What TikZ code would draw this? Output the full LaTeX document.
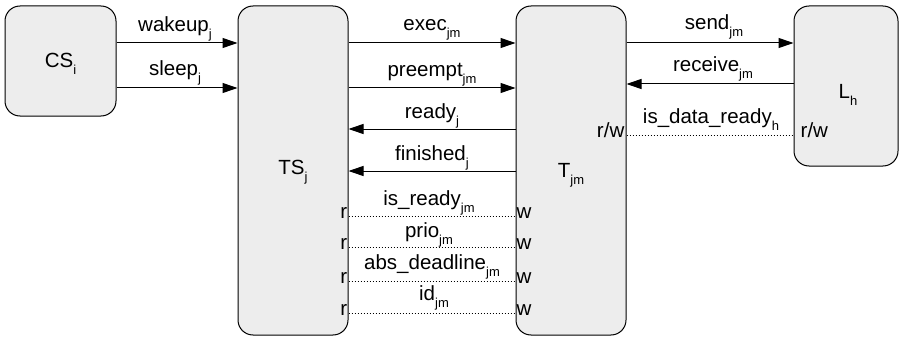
\documentclass[tikz,border=0pt]{standalone}
\usepackage{fontspec}
\setmainfont{Liberation Sans}
\usetikzlibrary{arrows.meta}
\newcommand{\mysub}[1]{\raisebox{-7pt}{\fontsize{13}{13}\selectfont #1}}
\tikzset{
 blk/.style={draw=black, line width=1pt, fill=black!7, rounded corners=15pt, inner sep=0pt},
 arr/.style={line width=1pt, -{Triangle[length=15pt,width=10pt]}},
 dotl/.style={line width=0.9pt, dash pattern=on 1pt off 2pt},
 lbl/.style={anchor=base, inner sep=0pt},
 rl/.style={anchor=mid east, inner sep=1pt},
 wl/.style={anchor=mid west, inner sep=1pt},
}
\begin{document}
\begin{tikzpicture}[x=1pt,y=-1pt,font=\fontsize{20.5}{24}\selectfont]
\useasboundingbox (0,0) rectangle (903,337);
% boxes
\node[blk, minimum width=111pt, minimum height=110pt] (cs) at (60.5,61) {};
\node[blk, minimum width=110pt, minimum height=329pt] (ts) at (293,170.5) {};
\node[blk, minimum width=110pt, minimum height=329pt] (t) at (571,170.5) {};
\node[blk, minimum width=104pt, minimum height=160pt] (l) at (846,86) {};
\node[lbl] (cst) at (60.5,67) {CS\mysub{i}};
\node[lbl] (tst) at (293,174) {TS\mysub{j}};
\node[lbl] (tt) at (571,177) {T\mysub{jm}};
\node[lbl] (lt) at (848,99) {L\mysub{h}};
% levels
\coordinate (y43) at (0,43);
\coordinate (y88) at (0,88);
\coordinate (y84) at (0,84);
\coordinate (y129) at (0,129);
\coordinate (y171) at (0,171);
\coordinate (y135) at (0,135);
\coordinate (y216) at (0,216);
\coordinate (y247) at (0,247);
\coordinate (y281) at (0,281);
\coordinate (y313) at (0,313);
% CS -> TS
\draw[arr] (cs.east |- y43) -- (ts.west |- y43);
\draw[arr] (cs.east |- y88) -- (ts.west |- y88);
\node[lbl] (lwake) at (175,32) {wakeup\mysub{j}};
\node[lbl] (lsleep) at (175,76) {sleep\mysub{j}};
% TS <-> T
\draw[arr] (ts.east |- y43) -- (t.west |- y43);
\draw[arr] (ts.east |- y88) -- (t.west |- y88);
\draw[arr] (t.west |- y129) -- (ts.east |- y129);
\draw[arr] (t.west |- y171) -- (ts.east |- y171);
\node[lbl] (lexec) at (432,31) {exec\mysub{jm}};
\node[lbl] (lpre) at (432,77) {preempt\mysub{jm}};
\node[lbl] (lready) at (432,118) {ready\mysub{j}};
\node[lbl] (lfin) at (432,160) {finished\mysub{j}};
% T <-> L
\draw[arr] (t.east |- y43) -- (l.west |- y43);
\draw[arr] (l.west |- y84) -- (t.east |- y84);
\node[lbl] (lsend) at (714,30) {send\mysub{jm}};
\node[lbl] (lrec) at (713,72) {receive\mysub{jm}};
\node[lbl] (lisd) at (711,123) {is\_data\_ready\mysub{h}};
\node[rl, inner xsep=2pt] (rwt) at (t.east |- y135) {r/w};
\node[wl, inner xsep=7pt] (rwl) at (l.west |- y135) {r/w};
\draw[dotl] (rwt.mid east) -- (rwl.mid west);
% shared variables
\node[rl] (r1) at (ts.east |- y216) {r};
\node[rl] (r2) at (ts.east |- y247) {r};
\node[rl] (r3) at (ts.east |- y281) {r};
\node[rl] (r4) at (ts.east |- y313) {r};
\node[wl] (w1) at (t.west |- y216) {w};
\node[wl] (w2) at (t.west |- y247) {w};
\node[wl] (w3) at (t.west |- y281) {w};
\node[wl] (w4) at (t.west |- y313) {w};
\draw[dotl] (r1.mid east) -- (w1.mid west);
\draw[dotl] (r2.mid east) -- (w2.mid west);
\draw[dotl] (r3.mid east) -- (w3.mid west);
\draw[dotl] (r4.mid east) -- (w4.mid west);
\node[lbl] (lisr) at (429,205) {is\_ready\mysub{jm}};
\node[lbl] (lprio) at (429,237) {prio\mysub{jm}};
\node[lbl] (labs) at (432,269) {abs\_deadline\mysub{jm}};
\node[lbl] (lid) at (434,300) {id\mysub{jm}};
\end{tikzpicture}
\end{document}
